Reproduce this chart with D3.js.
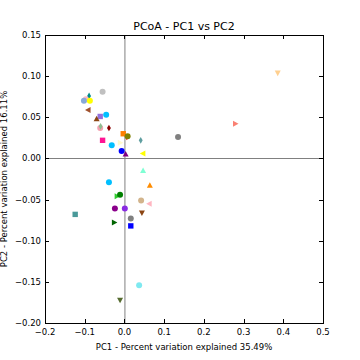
<!DOCTYPE html>
<html>
<head>
<meta charset="utf-8">
<script src="https://cdn.jsdelivr.net/npm/d3@7"></script>
<style>
  body { margin: 0; background: #fff; }
  text { font-family: "DejaVu Sans", sans-serif; fill: #000; }
</style>
</head>
<body>
<div id="chart"></div>
<script>
// Sample coordinates.
let pc1 = [-0.089, -0.097, -0.102, -0.087, -0.055, -0.091, -0.061, -0.070, -0.046, -0.061, -0.060, -0.039,
  -0.003, 0.006, 0.008, 0.041, -0.055, -0.011, -0.032, -0.007, 0.003, 0.047, 0.047, -0.039, 0.064, -0.019,
  -0.011, 0.042, 0.063, -0.124, -0.024, 0.001, 0.044, 0.016, -0.026, 0.016, 0.037, -0.011, 0.386, 0.279, 0.135];
let pc2 = [0.076, 0.072, 0.070, 0.070, 0.081, 0.059, 0.051, 0.048, 0.053, 0.037, 0.039, 0.037,
  0.030, 0.026, 0.027, 0.022, 0.022, 0.019, 0.016, 0.009, 0.005, 0.006, -0.015, -0.029, -0.033, -0.046,
  -0.044, -0.051, -0.055, -0.068, -0.061, -0.061, -0.066, -0.073, -0.078, -0.082, -0.154, -0.172, 0.104, 0.042, 0.026];
let colors = ["#008b8b", "#ffb6c1", "#87a9d8", "#ffff00", "#c0c0c0", "#a0522d", "#9370db", "#8b4513", "#00bfff", "#f4a0b0",
  "#8fbc8f", "#8b0000", "#ff7f00", "#ff0000", "#808000", "#5f9ea0", "#ff1493", "#fffacd", "#00bfff", "#0000ff",
  "#800080", "#ffff00", "#7fffd4", "#00bfff", "#ff8c00", "#32cd32", "#008000", "#d2b48c", "#ffb6c1", "#4a9a9a",
  "#8b008b", "#8a2be2", "#8b4513", "#808080", "#006400", "#0000ff", "#7fe9f0", "#556b2f", "#ffd090", "#fa8072", "#808080"];
let shapes = ["d", "o", "o", "o", "o", "<", "s", "^", "o", "o",
  "d", "d", "s", "d", "o", "d", "s", ">", "o", "o",
  "^", "<", "^", "o", "^", ">", "o", "o", "<", "s",
  "o", "o", "v", "o", ">", "s", "o", "v", "v", ">", "o"];
let xTicks = [-0.2, -0.1, 0.0, 0.1, 0.2, 0.3, 0.4, 0.5];
let yTicks = [-0.20, -0.15, -0.10, -0.05, 0.00, 0.05, 0.10, 0.15];

let W = 360, H = 360;
let margin = { top: 35, right: 37, bottom: 37, left: 45 };
let width = W - margin.left - margin.right;
let height = H - margin.top - margin.bottom;

let svg = d3.select("#chart")
  .append("svg")
  .attr("width", W)
  .attr("height", H);

let g = svg.append("g")
  .attr("transform", "translate(" + margin.left + "," + margin.top + ")");

let x = d3.scaleLinear().domain([-0.2, 0.5]).range([0, width]);
let y = d3.scaleLinear().domain([-0.2, 0.15]).range([height, 0]);

let fmtMinus = s => s.replace("-", "\u2212");

// zero lines
g.append("line")
  .attr("x1", x(0) + 0.5).attr("x2", x(0) + 0.5)
  .attr("y1", 0).attr("y2", height)
  .attr("stroke", "#808080").attr("stroke-width", 1);
g.append("line")
  .attr("x1", 0).attr("x2", width)
  .attr("y1", Math.round(y(0)) + 0.5).attr("y2", Math.round(y(0)) + 0.5)
  .attr("stroke", "#808080").attr("stroke-width", 1);

// marker paths
let r = 3;
function markerPath(s) {
  if (s === "o") return d3.symbol(d3.symbolCircle, Math.PI * r * r)();
  if (s === "s") return `M${-r * 0.9},${-r * 0.9}H${r * 0.9}V${r * 0.9}H${-r * 0.9}Z`;
  if (s === "d") return `M0,${-r * 1.1}L${r * 0.65},0L0,${r * 1.1}L${-r * 0.65},0Z`;
  return `M0,${-r * 1.1}L${r},${r * 0.75}L${-r},${r * 0.75}Z`;
}
let rot = { "^": 0, ">": 90, "v": 180, "<": 270 };

let pts = pc1.map((d, i) => ({ x: d, y: pc2[i], c: colors[i], s: shapes[i] }));

g.append("g")
  .selectAll("path")
  .data(pts)
  .join("path")
  .attr("d", d => markerPath(d.s))
  .attr("transform", d => "translate(" + x(d.x) + "," + y(d.y) + ")" + (rot[d.s] !== undefined ? " rotate(" + rot[d.s] + ")" : ""))
  .attr("fill", d => d.c)
  .attr("stroke", "none");

// frame
g.append("rect")
  .attr("x", 0.5).attr("y", 0.5)
  .attr("width", width).attr("height", height)
  .attr("fill", "none").attr("stroke", "#000").attr("stroke-width", 1);

// inward ticks on all sides
let tk = 4;
let tg = g.append("g").attr("stroke", "#000").attr("stroke-width", 1);
xTicks.forEach(t => {
  let px = Math.round(x(t)) + 0.5;
  tg.append("line").attr("x1", px).attr("x2", px).attr("y1", height).attr("y2", height - tk);
  tg.append("line").attr("x1", px).attr("x2", px).attr("y1", 0).attr("y2", tk);
});
yTicks.forEach(t => {
  let py = Math.round(y(t)) + 0.5;
  tg.append("line").attr("x1", 0).attr("x2", tk).attr("y1", py).attr("y2", py);
  tg.append("line").attr("x1", width).attr("x2", width - tk).attr("y1", py).attr("y2", py);
});

// tick labels
g.append("g")
  .selectAll("text")
  .data(xTicks)
  .join("text")
  .attr("x", d => x(d))
  .attr("y", height + 12)
  .attr("text-anchor", "middle")
  .attr("font-size", 8.5)
  .text(d => fmtMinus(d3.format(".1f")(d)));

g.append("g")
  .selectAll("text")
  .data(yTicks)
  .join("text")
  .attr("x", -4)
  .attr("y", d => y(d) + 3)
  .attr("text-anchor", "end")
  .attr("font-size", 8.5)
  .text(d => fmtMinus(d3.format(".2f")(d)));

// title & labels
svg.append("text")
  .attr("x", margin.left + width / 2)
  .attr("y", 30)
  .attr("text-anchor", "middle")
  .attr("font-size", 11)
  .text("PCoA - PC1 vs PC2");

svg.append("text")
  .attr("x", margin.left + width / 2)
  .attr("y", 350)
  .attr("text-anchor", "middle")
  .attr("font-size", 8.5)
  .text("PC1 - Percent variation explained 35.49%");

svg.append("text")
  .attr("transform", "translate(7," + (margin.top + height / 2) + ") rotate(-90)")
  .attr("text-anchor", "middle")
  .attr("font-size", 8.5)
  .text("PC2 - Percent variation explained 16.11%");
</script>
</body>
</html>
